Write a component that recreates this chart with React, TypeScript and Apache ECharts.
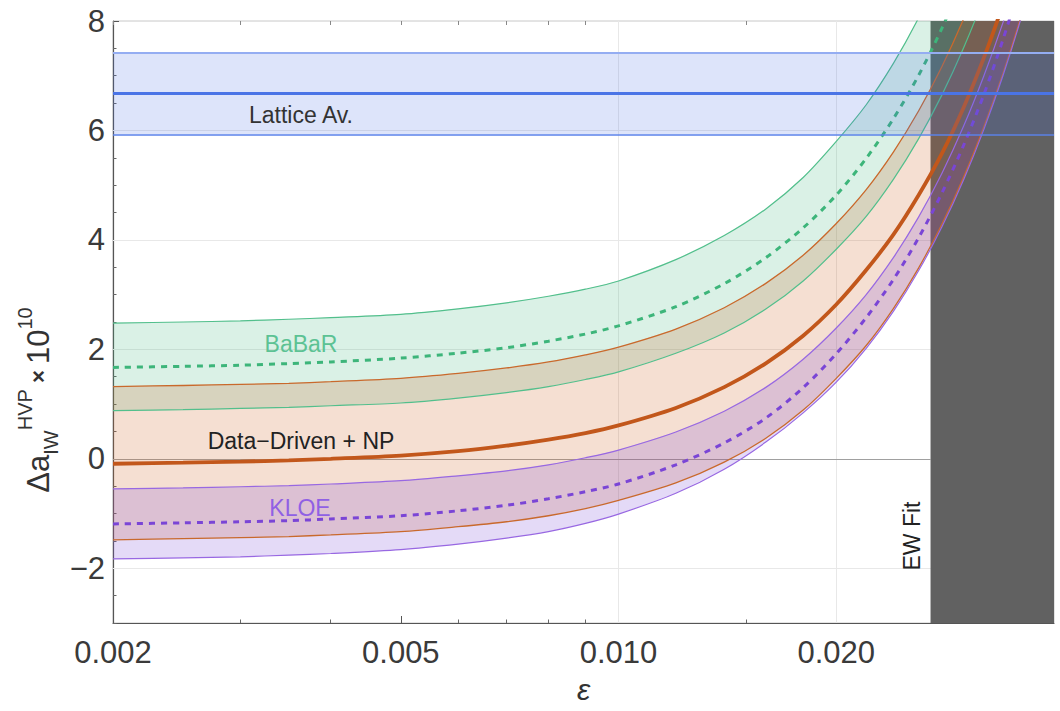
import React, { useEffect, useRef } from 'react';
import * as echarts from 'echarts';

// ---------- data ----------
const eps = [0.002, 0.0025, 0.003, 0.0035, 0.004, 0.005, 0.006, 0.007, 0.008, 0.009, 0.010, 0.012, 0.014, 0.016, 0.018, 0.020, 0.022, 0.024, 0.026, 0.028, 0.030, 0.032, 0.034, 0.036, 0.038, 0.040];

// Data-Driven + NP (central, band edges)
const ddCentral = [-0.09, -0.07, -0.05, -0.03, 0.00, 0.06, 0.14, 0.24, 0.35, 0.47, 0.61, 0.93, 1.31, 1.75, 2.25, 2.82, 3.45, 4.10, 4.82, 5.58, 6.42, 7.33, 8.30, 9.30, 10.40, 11.55];
const ddUpper = [1.32, 1.34, 1.36, 1.38, 1.41, 1.47, 1.56, 1.66, 1.77, 1.90, 2.04, 2.37, 2.76, 3.21, 3.72, 4.30, 4.92, 5.61, 6.36, 7.17, 8.04, 8.97, 9.95, 11.0, 12.1, 13.3];
const ddLower = [-1.48, -1.46, -1.44, -1.42, -1.39, -1.33, -1.24, -1.15, -1.04, -0.91, -0.76, -0.44, -0.06, 0.38, 0.89, 1.47, 2.07, 2.75, 3.49, 4.29, 5.15, 6.07, 7.04, 8.08, 9.2, 10.3];

// BaBaR
const babarCentral = [1.67, 1.69, 1.71, 1.74, 1.77, 1.84, 1.93, 2.03, 2.15, 2.28, 2.43, 2.78, 3.20, 3.68, 4.22, 4.82, 5.49, 6.22, 7.01, 7.87, 8.80, 9.78, 10.8, 11.9, 13.1, 14.4];
const babarUpper = [2.48, 2.50, 2.52, 2.55, 2.58, 2.64, 2.74, 2.85, 2.97, 3.10, 3.25, 3.64, 4.08, 4.57, 5.14, 5.80, 6.47, 7.23, 8.06, 8.96, 9.90, 10.9, 12.0, 13.2, 14.4, 15.7];
const babarLower = [0.88, 0.90, 0.92, 0.94, 0.97, 1.02, 1.11, 1.21, 1.32, 1.45, 1.59, 1.93, 2.30, 2.74, 3.25, 3.83, 4.43, 5.11, 5.85, 6.65, 7.51, 8.43, 9.4, 10.4, 11.5, 12.7];

// KLOE
const kloeCentral = [-1.19, -1.17, -1.15, -1.13, -1.10, -1.04, -0.95, -0.85, -0.73, -0.60, -0.46, -0.11, 0.29, 0.75, 1.30, 1.92, 2.58, 3.28, 4.04, 4.86, 5.73, 6.66, 7.66, 8.72, 9.9, 11.1];
const kloeUpper = [-0.55, -0.53, -0.51, -0.49, -0.46, -0.40, -0.31, -0.22, -0.11, 0.02, 0.16, 0.49, 0.87, 1.31, 1.82, 2.39, 3.00, 3.68, 4.42, 5.22, 6.08, 7.00, 7.97, 9.00, 10.1, 11.3];
const kloeLower = [-1.83, -1.81, -1.79, -1.76, -1.73, -1.66, -1.56, -1.45, -1.33, -1.18, -1.01, -0.63, -0.19, 0.31, 0.84, 1.40, 2.02, 2.70, 3.44, 4.24, 5.10, 6.02, 7.00, 8.04, 9.15, 10.3];

// Lattice average band
const latticeCentral = 6.68;
const latticeLower = 5.93;
const latticeUpper = 7.42;

// EW fit excluded region (epsilon range)
const ewFitRange = [0.027, 0.04];

// axes
const xMin = 0.002;
const xMax = 0.04;
const yMin = -3;
const yMax = 8;
const xTickLabels = [0.002, 0.005, 0.01, 0.02];
const xMinorTicks = [0.003, 0.004, 0.006, 0.007, 0.008, 0.009, 0.015, 0.03];
const yTickLabels = [-2, 0, 2, 4, 6, 8];
const xGridValues = [0.005, 0.01, 0.02];
const yGridValues = [-2, 2, 4, 6];

// ---------- chart ----------
const FONT = '"Liberation Sans", Arial, Helvetica, sans-serif';
const SMOOTH = 0.3;

const xy = (ys: number[]) => eps.map((e, i) => [e, ys[i]]);

// filled band between two curves, drawn through the axes' scales (api.coord)
function band(lo: number[], hi: number[], color: string, z: number) {
  return {
    type: 'custom', coordinateSystem: 'cartesian2d', silent: true, z, clip: true,
    data: [[0.01, 0]],
    encode: { x: 0, y: 1 },
    renderItem: (params: any, api: any) => {
      const pts: number[][] = [];
      for (let i = 0; i < eps.length; i++) pts.push(api.coord([eps[i], lo[i]]));
      for (let i = eps.length - 1; i >= 0; i--) pts.push(api.coord([eps[i], hi[i]]));
      const cs = params.coordSys;
      return {
        type: 'polygon',
        shape: { points: pts },
        style: { fill: color, stroke: 'none' },
        clipPath: { type: 'rect', shape: { x: cs.x, y: cs.y, width: cs.width, height: cs.height } },
      };
    },
  };
}

function curve(ys: number[], color: string, width: number, type: any, z: number) {
  return {
    type: 'line', data: xy(ys), symbol: 'none', smooth: SMOOTH, silent: true, z,
    lineStyle: { color, width, type, cap: 'butt' },
  };
}

const hidden = (z: number) => ({
  type: 'line', data: xy(ddCentral), symbol: 'none', silent: true, z,
  lineStyle: { opacity: 0 },
});

const fmtY = (v: number) => (v < 0 ? '\u2212' + Math.abs(v) : String(v));

const baseX = {
  type: 'log', logBase: 10, min: xMin, max: xMax,
  splitLine: { show: false }, minorTick: { show: false }, minorSplitLine: { show: false },
};

const centered = { align: 'center', verticalAlign: 'middle', textAlign: 'center', textVerticalAlign: 'middle' };

function buildOption(): any {
  return {
    animation: false,
    grid: {
      left: 113, right: 6, top: 21, bottom: 88, show: true,
      borderColor: '#c8c8c8', borderWidth: 1, backgroundColor: 'transparent',
    },
    xAxis: [
      {
        ...baseX, position: 'bottom',
        name: '\u03b5', nameLocation: 'middle', nameGap: 51,
        nameTextStyle: { fontFamily: FONT, fontStyle: 'italic', fontSize: 30, color: '#333' },
        axisLine: { show: true, onZero: false, lineStyle: { color: '#555', width: 1.2 } },
        axisTick: { show: true, inside: true, length: 3.5, customValues: xMinorTicks, lineStyle: { color: '#666' } },
        axisLabel: {
          customValues: xTickLabels, formatter: (v: number) => v.toFixed(3),
          fontFamily: FONT, fontSize: 31, color: '#3a3a3a', margin: 14,
        },
      },
      {
        ...baseX, position: 'bottom',
        axisLine: { show: false, onZero: false },
        axisTick: { show: true, inside: true, length: 7, customValues: xTickLabels, lineStyle: { color: '#555' } },
        axisLabel: { show: false },
      },
      {
        ...baseX, position: 'top',
        axisLine: { show: false, onZero: false },
        axisTick: { show: true, inside: true, length: 4, customValues: xMinorTicks.concat(xTickLabels), lineStyle: { color: '#888' } },
        axisLabel: { show: false },
      },
    ],
    yAxis: [
      {
        type: 'value', min: yMin, max: yMax, interval: 0.5,
        axisLine: { show: true, onZero: false, lineStyle: { color: '#555', width: 1.2 } },
        axisTick: { show: true, inside: true, length: 3.5, lineStyle: { color: '#666' } },
        axisLabel: {
          customValues: yTickLabels, formatter: fmtY,
          fontFamily: FONT, fontSize: 31, color: '#3a3a3a', margin: 8,
        },
        splitLine: { show: false },
      },
      {
        type: 'value', min: yMin, max: yMax, position: 'left',
        axisLine: { show: false, onZero: false },
        axisTick: { show: true, inside: true, length: 6, customValues: yTickLabels, lineStyle: { color: '#555' } },
        axisLabel: { show: false },
        splitLine: { show: false },
      },
    ],
    graphic: [
      {
        type: 'text', x: 38, y: 400, rotation: Math.PI / 2, silent: true,
        style: {
          text: '{m|\u0394a}{sub|IW}{sup|HVP}{x| \u00d7 }{m|10}{sup|10}',
          ...centered,
          fill: '#333',
          rich: {
            m: { fontSize: 31, fontFamily: FONT, fill: '#333', lineHeight: 46, verticalAlign: 'middle' },
            sub: { fontSize: 20, fontFamily: FONT, fill: '#333', lineHeight: 20, verticalAlign: 'bottom' },
            sup: { fontSize: 20, fontFamily: FONT, fill: '#333', lineHeight: 20, verticalAlign: 'top' },
            x: { fontSize: 22, fontFamily: FONT, fontWeight: 'bold', fill: '#333', lineHeight: 40, verticalAlign: 'middle' },
          },
        },
      },
      { type: 'text', x: 301, y: 115, silent: true, z: 100, style: { text: 'Lattice Av.', font: '23px ' + FONT, fill: '#333', ...centered } },
      { type: 'text', x: 301, y: 344, silent: true, z: 100, style: { text: 'BaBaR', font: '23px ' + FONT, fill: '#5cc294', ...centered } },
      { type: 'text', x: 301, y: 441, silent: true, z: 100, style: { text: 'Data\u2212Driven + NP', font: '23px ' + FONT, fill: '#222', ...centered } },
      { type: 'text', x: 300, y: 508, silent: true, z: 100, style: { text: 'KLOE', font: '23px ' + FONT, fill: '#9060e4', ...centered } },
      { type: 'text', x: 912, y: 536, rotation: Math.PI / 2, silent: true, z: 100, style: { text: 'EW Fit', font: '23px ' + FONT, fill: '#222', ...centered } },
    ],
    series: [
      {
        ...hidden(1),
        markLine: {
          silent: true, z: 1, symbol: ['none', 'none'], label: { show: false },
          lineStyle: { color: '#e8e8e8', width: 1, type: 'solid' },
          data: [
            ...xGridValues.map((v) => ({ xAxis: v })),
            ...yGridValues.map((v) => ({ yAxis: v })),
            [{ coord: [xMin, 0], lineStyle: { color: '#a0a0a0', width: 1, type: 'solid' } }, { coord: [ewFitRange[0], 0] }],
          ],
        },
      },
      {
        ...hidden(2),
        markArea: {
          silent: true, z: 2, itemStyle: { color: '#616161', opacity: 1 },
          data: [[{ xAxis: ewFitRange[0] }, { xAxis: ewFitRange[1] }]],
        },
      },
      band(babarLower, babarUpper, 'rgba(60,180,120,0.19)', 3),
      band(ddLower, ddUpper, 'rgba(205,95,30,0.2)', 3),
      band(kloeLower, kloeUpper, 'rgba(120,70,215,0.2)', 3),
      curve(babarUpper, '#52bf8c', 1.2, 'solid', 4),
      curve(babarLower, '#52bf8c', 1.2, 'solid', 4),
      curve(ddUpper, '#c9692c', 1.3, 'solid', 4),
      curve(ddLower, '#c9692c', 1.3, 'solid', 4),
      curve(kloeUpper, '#9868e2', 1.2, 'solid', 4),
      curve(kloeLower, '#9868e2', 1.2, 'solid', 4),
      curve(babarCentral, '#3db57a', 3, [6, 6], 4),
      curve(kloeCentral, '#7a45d6', 3, [6, 6], 4),
      curve(ddCentral, '#c2571b', 3.8, 'solid', 4),
      {
        ...hidden(5),
        markArea: {
          silent: true, z: 5, itemStyle: { color: 'rgba(65,105,225,0.18)', opacity: 1 },
          data: [[{ yAxis: latticeLower }, { yAxis: latticeUpper }]],
        },
        markLine: {
          silent: true, z: 6, symbol: ['none', 'none'], label: { show: false },
          data: [
            { yAxis: latticeUpper, lineStyle: { color: '#94adf2', width: 2.2, type: 'solid' } },
            { yAxis: latticeCentral, lineStyle: { color: '#4a74e6', width: 3, type: 'solid' } },
            { yAxis: latticeLower, lineStyle: { color: '#5a82ea', width: 1.6, type: 'solid' } },
          ],
        },
      },
    ],
  };
}

export default function App() {
  const ref = useRef<HTMLDivElement>(null);
  useEffect(() => {
    if (!ref.current) return;
    const chart = echarts.init(ref.current, null, { renderer: 'svg' });
    chart.setOption(buildOption());
    return () => chart.dispose();
  }, []);
  return (
    <div
      ref={ref}
      style={{ position: 'fixed', left: 0, top: 0, width: 1060, height: 711, background: '#fff' }}
    />
  );
}
